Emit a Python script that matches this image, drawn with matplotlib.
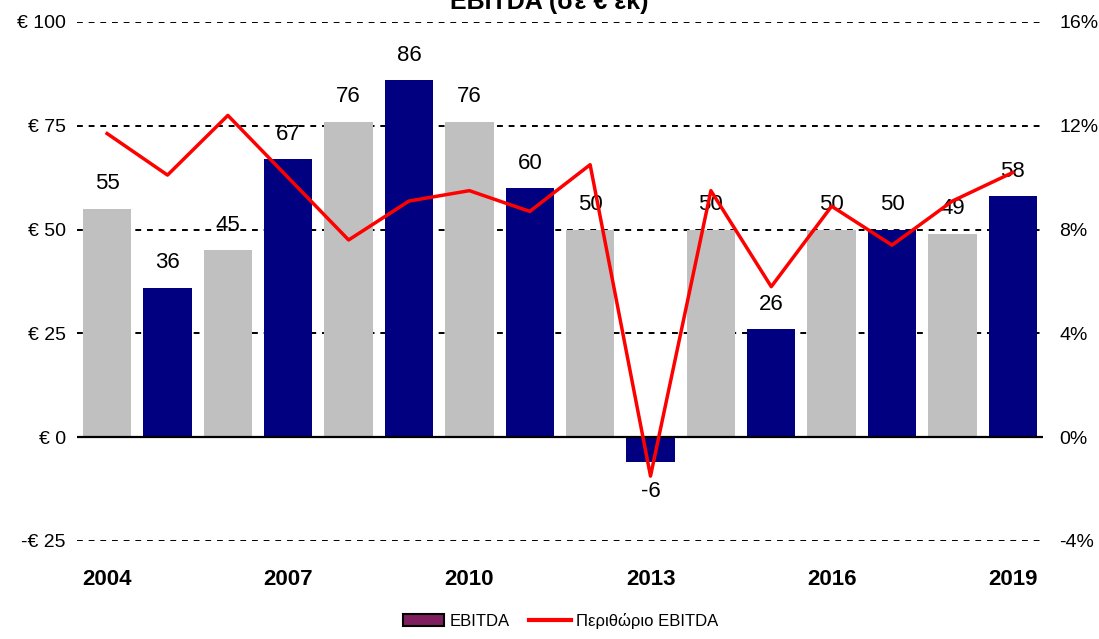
import numpy as np
import matplotlib
matplotlib.use("Agg")
from matplotlib import pyplot as plt
from matplotlib.patches import Patch
from matplotlib.lines import Line2D

plt.rcParams['font.family'] = ['Liberation Sans', 'DejaVu Sans']

years = list(range(2004, 2020))
ebitda = [55, 36, 45, 67, 76, 86, 76, 60, 50, -6, 50, 26, 50, 50, 49, 58]
margin = [11.7, 10.1, 12.4, 10.0, 7.6, 9.1, 9.5, 8.7, 10.5, -1.5, 9.5, 5.8, 8.9, 7.4, 9.1, 10.2]
bar_colors = ['#C0C0C0', '#000080'] * 8
year_ticks = [2004, 2007, 2010, 2013, 2016, 2019]
left_ticks = [-25, 0, 25, 50, 75, 100]
right_ticks = [-4, 0, 4, 8, 12, 16]

fig = plt.figure(figsize=(10.99, 6.39), dpi=100)
ax = fig.add_axes([0.070, 0.1534, 0.879, 0.8122])
ax2 = ax.twinx()

ax.bar(years, ebitda, width=0.8, color=bar_colors, zorder=2)
ax.set_ylim(-25, 100)
ax.set_xlim(2003.5, 2019.5)
ax2.set_ylim(-4, 16)

for v in [-25, 25, 50, 75, 100]:
    ax.axhline(v, color='black', lw=1.4, ls=(0, (3, 3)), zorder=1)
ax.axhline(0, color='black', lw=1.6, zorder=3)

ax2.plot(years, margin, color='#FF0000', lw=2.5, zorder=4)

for x, v in zip(years, ebitda):
    if v >= 0:
        ax.text(x, v + 6, str(v), ha='center', va='center', fontsize=16, zorder=5)
    else:
        ax.text(x, v - 7, str(v), ha='center', va='center', fontsize=16, zorder=5)

ax.set_yticks(left_ticks)
ax.set_yticklabels([('-€ %d' % -t) if t < 0 else ('€ %d' % t) for t in left_ticks], fontsize=14)
ax2.set_yticks(right_ticks)
ax2.set_yticklabels(['%d%%' % t for t in right_ticks], fontsize=14)
ax.set_xticks(year_ticks)
ax.set_xticklabels([str(y) for y in year_ticks], fontsize=16, fontweight='bold')

for a in (ax, ax2):
    a.tick_params(length=0)
    for s in a.spines.values():
        s.set_visible(False)
ax.tick_params(axis='x', pad=20)
ax.tick_params(axis='y', pad=8)
ax2.tick_params(axis='y', pad=12)

fig.text(0.5, 0.997, 'EBITDA (σε € εκ)', ha='center', va='center', fontsize=18, fontweight='bold')

handles = [Patch(facecolor='#7F1F5F', edgecolor='black', lw=1.5),
           Line2D([0], [0], color='#FF0000', lw=3)]
fig.legend(handles, ['EBITDA', 'Περιθώριο EBITDA'], loc='center', bbox_to_anchor=(0.51, 0.028),
           ncol=2, frameon=False, fontsize=12, handlelength=2.5, handletextpad=0.3, columnspacing=1.2)

fig.savefig('out.png', dpi=100)
